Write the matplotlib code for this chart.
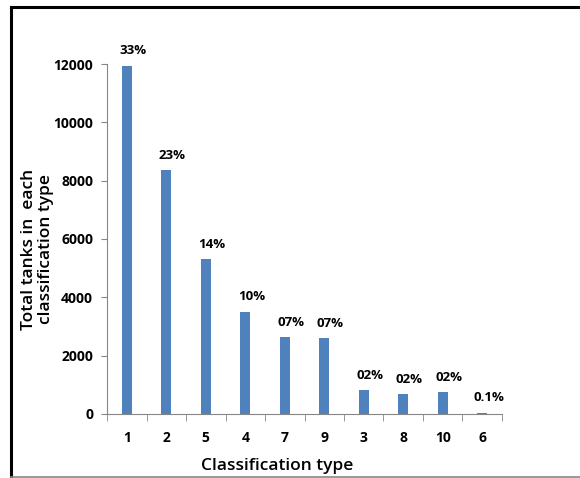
import numpy as np
import matplotlib
matplotlib.use("Agg")
import matplotlib.pyplot as plt
from matplotlib.lines import Line2D

# data
categories = ["1", "2", "5", "4", "7", "9", "3", "8", "10", "6"]
tanks = [11950, 8350, 5310, 3510, 2640, 2605, 810, 675, 745, 45]
shares = ["33%", "23%", "14%", "10%", "07%", "07%", "02%", "02%", "02%", "0.1%"]

plt.rcParams['font.family'] = ['Open Sans', 'DejaVu Sans']

fig = plt.figure(figsize=(5.8, 4.78), dpi=100)
ax = fig.add_axes([0.1845, 0.134, 0.681, 0.732])

x = np.arange(len(categories))
ax.bar(x, tanks, width=0.26, color="#4F81BD", zorder=2)

for xi, v, s in zip(x, tanks, shares):
    ax.annotate(s, (xi, v), xytext=(4.5, 6), textcoords="offset points",
                ha="center", va="bottom", fontsize=9.5, fontweight="bold",
                annotation_clip=False)

ax.set_xlim(-0.5, len(categories) - 0.5)
ax.set_ylim(0, 12000)
ax.set_yticks(np.arange(0, 12001, 2000))
ax.set_xticks(x)
ax.set_xticklabels(categories)
ax.set_xticks(np.arange(-0.5, len(categories), 1), minor=True)
ax.tick_params(axis="x", which="major", length=0, pad=12)
ax.tick_params(axis="x", which="minor", length=5, color="#868686", direction="out")
ax.tick_params(axis="y", length=4, color="#868686", pad=6)
for lab in ax.get_xticklabels() + ax.get_yticklabels():
    lab.set_fontweight("bold")
    lab.set_fontsize(10)

for side in ["top", "right"]:
    ax.spines[side].set_visible(False)
for side in ["left", "bottom"]:
    ax.spines[side].set_color("#868686")

ax.set_xlabel("Classification type", fontsize=12.5, fontweight="semibold")
ax.xaxis.set_label_coords(0.43, -0.127)
ax.set_ylabel("Total tanks in  each\nclassification type", fontsize=12.5,
              fontweight="semibold", linespacing=1.05)
ax.yaxis.set_label_coords(-0.135, 0.471)

# outer frame
fig.add_artist(Line2D([11 / 580, 1], [1 - 6.5 / 478] * 2, color="black", lw=2.2))
fig.add_artist(Line2D([11 / 580] * 2, [0, 1 - 6.5 / 478], color="black", lw=2.2))
fig.add_artist(Line2D([11 / 580, 1], [1.2 / 478] * 2, color="#888888", lw=1.2))

fig.savefig("out.png", dpi=100)
